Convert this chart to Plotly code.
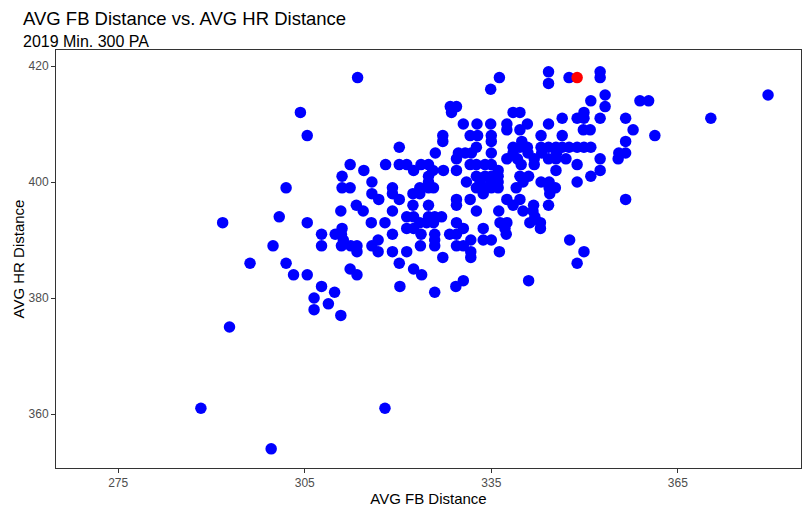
import plotly.graph_objects as go

# average fly-ball distance (ft) per hitter
fb_distance = [
    344.2, 352.5,
    313.5, 336.3, 347.5, 352.5,
    344.2,
    334.9,
    353.3, 379.5,
    351.0, 358.9, 360.3,
    328.4, 329.4, 353.3,
    304.3, 328.6, 338.5, 339.6, 349.9,
    346.4, 348.8, 349.9, 352.5, 356.6, 370.3,
    330.5, 332.7, 334.9, 337.5, 340.8, 344.2,
    337.5, 339.6, 349.8, 350.9, 357.8,
    305.4, 327.2, 331.6, 332.8, 335.0, 343.0, 346.4, 361.3,
    327.2, 335.0, 339.9, 356.6,
    320.2, 332.6, 338.5, 339.6, 340.8, 343.0, 344.2, 345.4, 346.4, 347.5, 348.8, 349.9, 351.0,
    326.0, 329.7, 330.8, 331.8, 335.0, 338.5, 340.9, 343.1, 345.5, 355.5, 356.6,
    329.4, 337.5, 339.2, 341.9, 344.2, 345.4, 347.0, 352.5, 355.4,
    312.3, 318.0, 320.2, 321.4, 323.7, 324.9, 331.6, 332.6, 334.0, 335.0, 339.8, 341.9, 348.8,
    314.5, 322.5, 325.6, 327.3, 329.4, 336.1, 345.4, 352.5,
    311.0, 324.9, 332.6, 334.0, 335.0, 336.1, 339.6, 341.0, 351.0,
    315.8, 324.9, 331.0, 333.2, 335.0, 336.1, 340.1, 343.0, 344.3, 348.8,
    302.0, 311.0, 312.3, 319.1, 323.5, 324.9, 325.7, 332.6, 334.0, 335.0, 336.1, 339.0, 344.3, 345.3,
    315.8, 319.1, 322.4, 323.5, 333.7, 344.4,
    316.9, 320.2, 329.4, 331.6, 337.5, 339.6, 356.6,
    313.3, 322.4, 324.9, 329.4, 338.5, 341.8, 344.2,
    310.8, 314.4, 319.1, 332.6, 336.2, 340.1, 341.7,
    300.9, 321.4, 322.5, 324.9, 325.9, 327.0, 342.0,
    291.8, 305.4, 315.7, 317.9, 323.5, 324.6, 325.7, 329.4, 336.4, 337.5, 341.2, 342.9,
    311.0, 321.4, 322.5, 330.5, 333.7, 337.2, 342.9,
    307.7, 309.9, 310.9, 319.1, 323.7, 325.9, 328.3, 329.4, 337.4,
    311.2, 316.8, 325.9, 331.7, 333.7, 335.0, 347.6,
    299.9, 307.7, 310.9, 312.4, 313.4, 315.8, 323.6, 325.9, 329.4, 330.5,
    313.4, 316.8, 319.1, 321.4, 331.7, 336.3, 349.9,
    327.2, 331.7,
    296.2, 302.0, 320.2, 348.8,
    312.3, 322.5,
    303.2, 305.4, 313.4, 323.8,
    330.5, 341.0,
    307.7, 320.3, 329.3,
    309.8, 325.9,
    306.5,
    308.8,
    306.5,
    310.8,
    292.9,
    288.3, 317.9,
    299.6,
]

# average home-run distance (ft), same order as above
hr_distance = [
    419, 419,
    418, 418, 418, 418,
    417,
    416,
    415, 415,
    414, 414, 414,
    413, 413, 413,
    412, 412, 412, 412, 412,
    411, 411, 411, 411, 411, 411,
    410, 410, 410, 410, 410, 410,
    409, 409, 409, 409, 409,
    408, 408, 408, 408, 408, 408, 408, 408,
    407, 407, 407, 407,
    406, 406, 406, 406, 406, 406, 406, 406, 406, 406, 406, 406, 406,
    405, 405, 405, 405, 405, 405, 405, 405, 405, 405, 405,
    404, 404, 404, 404, 404, 404, 404, 404, 404,
    403, 403, 403, 403, 403, 403, 403, 403, 403, 403, 403, 403, 403,
    402, 402, 402, 402, 402, 402, 402, 402,
    401, 401, 401, 401, 401, 401, 401, 401, 401,
    400, 400, 400, 400, 400, 400, 400, 400, 400, 400,
    399, 399, 399, 399, 399, 399, 399, 399, 399, 399, 399, 399, 399, 399,
    398, 398, 398, 398, 398, 398,
    397, 397, 397, 397, 397, 397, 397,
    396, 396, 396, 396, 396, 396, 396,
    395, 395, 395, 395, 395, 395, 395,
    394, 394, 394, 394, 394, 394, 394,
    393, 393, 393, 393, 393, 393, 393, 393, 393, 393, 393, 393,
    392, 392, 392, 392, 392, 392, 392,
    391, 391, 391, 391, 391, 391, 391, 391, 391,
    390, 390, 390, 390, 390, 390, 390,
    389, 389, 389, 389, 389, 389, 389, 389, 389, 389,
    388, 388, 388, 388, 388, 388, 388,
    387, 387,
    386, 386, 386, 386,
    385, 385,
    384, 384, 384, 384,
    383, 383,
    382, 382, 382,
    381, 381,
    380,
    379,
    378,
    377,
    375,
    361, 361,
    354,
]

# the one highlighted hitter
highlight_fb = [348.8]
highlight_hr = [418]

x_ticks = [275, 305, 335, 365]
y_ticks = [360, 380, 400, 420]

assert len(fb_distance) == len(hr_distance)

fig = go.Figure()
fig.add_trace(go.Scatter(x=fb_distance, y=hr_distance, mode="markers",
                         marker=dict(color="#0000FF", size=11.5), showlegend=False))
fig.add_trace(go.Scatter(x=highlight_fb, y=highlight_hr, mode="markers",
                         marker=dict(color="#FF0000", size=11.5), showlegend=False))

axis_style = dict(showgrid=False, zeroline=False, showline=True, mirror=True,
                  linecolor="#333333", linewidth=1, ticks="outside", ticklen=4,
                  tickcolor="#333333", tickfont=dict(size=12, color="#4D4D4D"))

# page body adds ~8px, so the figure is a bit smaller than the window
fig.update_layout(
    width=802, height=506,
    margin=dict(l=48, r=9, t=42, b=46),
    paper_bgcolor="white", plot_bgcolor="white",
    font=dict(family="Liberation Sans, Arial, sans-serif", color="black"),
    xaxis=dict(range=[265.0, 384.8], tickvals=x_ticks,
               title=dict(text="AVG FB Distance", font=dict(size=15), standoff=2),
               **axis_style),
    yaxis=dict(range=[350.7, 422.76], tickvals=y_ticks,
               title=dict(text="AVG HR Distance", font=dict(size=15), standoff=0),
               **axis_style),
    annotations=[
        dict(text="AVG FB Distance vs. AVG HR Distance", xref="paper", yref="paper",
             x=-0.047, y=1.0742, xanchor="left", yanchor="middle",
             showarrow=False, font=dict(size=18.5)),
        dict(text="2019 Min. 300 PA", xref="paper", yref="paper",
             x=-0.047, y=1.0215, xanchor="left", yanchor="middle",
             showarrow=False, font=dict(size=16)),
    ],
)

fig.write_html("out.html")
